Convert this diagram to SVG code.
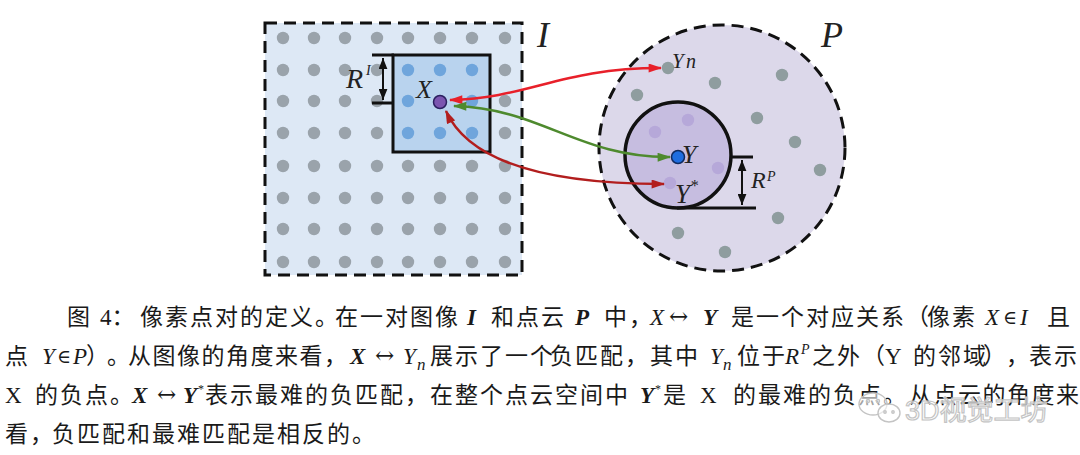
<svg xmlns="http://www.w3.org/2000/svg" width="1080" height="455" viewBox="0 0 1080 455">
<style>
.t{font-family:'Liberation Serif','Noto Sans CJK SC',serif;font-size:23px;fill:#1a1a1a}
.k{letter-spacing:2px}
.i{font-style:italic}
.b{font-weight:bold}
.sub{font-size:17px}
.sup{font-size:14px}
.ast{font-size:12px}
.sym{font-family:'DejaVu Serif',serif;font-size:23px;font-style:normal;font-weight:normal}
.el{font-family:'DejaVu Serif',serif;font-size:19px;font-style:normal}
.lab{font-family:'Liberation Serif',serif;font-style:italic;fill:#222}
.gd{fill:#9aa3ab}
.bd{fill:#6fa5dc}
.pd{fill:#8f9d9f}
.ld{fill:#b6a8d9}
.dash{fill:none;stroke:#111;stroke-width:3;stroke-dasharray:12 7}
.solid{stroke:#111;stroke-width:3}
.wm{font-family:'Liberation Sans','Noto Sans CJK SC',sans-serif;font-size:27px;fill:#fff;fill-opacity:0.6;stroke:#c4c4c4;stroke-width:1.2}
</style>
<defs>
<marker id="mr" viewBox="0 0 12 8" refX="11" refY="4" markerWidth="14" markerHeight="9" markerUnits="userSpaceOnUse" orient="auto-start-reverse"><path d="M0,0 L12,4 L0,8 z" fill="#e8202a"/></marker>
<marker id="mg" viewBox="0 0 12 8" refX="11" refY="4" markerWidth="14" markerHeight="9" markerUnits="userSpaceOnUse" orient="auto-start-reverse"><path d="M0,0 L12,4 L0,8 z" fill="#4e8a2e"/></marker>
<marker id="md" viewBox="0 0 12 8" refX="11" refY="4" markerWidth="14" markerHeight="9" markerUnits="userSpaceOnUse" orient="auto-start-reverse"><path d="M0,0 L12,4 L0,8 z" fill="#b21e1e"/></marker>
<marker id="mb" viewBox="0 0 10 8" refX="10" refY="4" markerWidth="11" markerHeight="9" markerUnits="userSpaceOnUse" orient="auto-start-reverse"><path d="M0,0 L10,4 L0,8 z" fill="#111"/></marker>
</defs>
<rect width="1080" height="455" fill="#fff"/>

<g id="image-I">
<rect x="265" y="23" width="257" height="252" fill="#dde8f5"/>
<g class="gd">
<circle cx="283" cy="38" r="6.2"/><circle cx="314" cy="38" r="6.2"/><circle cx="345" cy="38" r="6.2"/><circle cx="377" cy="38" r="6.2"/><circle cx="408" cy="38" r="6.2"/><circle cx="440" cy="38" r="6.2"/><circle cx="472" cy="38" r="6.2"/><circle cx="505" cy="38" r="6.2"/>
<circle cx="283" cy="70" r="6.2"/><circle cx="314" cy="70" r="6.2"/><circle cx="345" cy="70" r="6.2"/><circle cx="377" cy="70" r="6.2"/><circle cx="505" cy="70" r="6.2"/>
<circle cx="283" cy="101" r="6.2"/><circle cx="314" cy="101" r="6.2"/><circle cx="345" cy="101" r="6.2"/><circle cx="377" cy="101" r="6.2"/><circle cx="505" cy="101" r="6.2"/>
<circle cx="283" cy="133" r="6.2"/><circle cx="314" cy="133" r="6.2"/><circle cx="345" cy="133" r="6.2"/><circle cx="377" cy="133" r="6.2"/><circle cx="505" cy="133" r="6.2"/>
<circle cx="283" cy="166" r="6.2"/><circle cx="314" cy="166" r="6.2"/><circle cx="345" cy="166" r="6.2"/><circle cx="377" cy="166" r="6.2"/><circle cx="408" cy="166" r="6.2"/><circle cx="440" cy="166" r="6.2"/><circle cx="472" cy="166" r="6.2"/><circle cx="505" cy="166" r="6.2"/>
<circle cx="283" cy="198" r="6.2"/><circle cx="314" cy="198" r="6.2"/><circle cx="345" cy="198" r="6.2"/><circle cx="377" cy="198" r="6.2"/><circle cx="408" cy="198" r="6.2"/><circle cx="440" cy="198" r="6.2"/><circle cx="472" cy="198" r="6.2"/><circle cx="505" cy="198" r="6.2"/>
<circle cx="283" cy="229" r="6.2"/><circle cx="314" cy="229" r="6.2"/><circle cx="345" cy="229" r="6.2"/><circle cx="377" cy="229" r="6.2"/><circle cx="408" cy="229" r="6.2"/><circle cx="440" cy="229" r="6.2"/><circle cx="472" cy="229" r="6.2"/><circle cx="505" cy="229" r="6.2"/>
<circle cx="283" cy="262" r="6.2"/><circle cx="314" cy="262" r="6.2"/><circle cx="345" cy="262" r="6.2"/><circle cx="377" cy="262" r="6.2"/><circle cx="408" cy="262" r="6.2"/><circle cx="440" cy="262" r="6.2"/><circle cx="472" cy="262" r="6.2"/><circle cx="505" cy="262" r="6.2"/>
</g>
<rect x="393" y="55" width="97" height="97" fill="#b9d3ee" class="solid"/>
<g class="bd">
<circle cx="408" cy="70" r="6.2"/><circle cx="440" cy="70" r="6.2"/><circle cx="472" cy="70" r="6.2"/>
<circle cx="408" cy="101" r="6.2"/><circle cx="472" cy="101" r="6.2"/>
<circle cx="408" cy="133" r="6.2"/><circle cx="440" cy="133" r="6.2"/><circle cx="472" cy="133" r="6.2"/>
</g>
<rect x="265" y="23" width="257" height="252" class="dash"/>
<line x1="372" y1="55" x2="394" y2="55" class="solid"/>
<line x1="372" y1="103" x2="394" y2="103" class="solid"/>
<line x1="383" y1="58" x2="383" y2="100" stroke="#111" stroke-width="2" marker-start="url(#mb)" marker-end="url(#mb)"/>
<text class="lab" x="346" y="88" font-size="28">R</text>
<text class="lab" x="366" y="75" font-size="14">I</text>
<text class="lab" x="537" y="47" font-size="36">I</text>
</g>

<g id="pixel-X">
<circle cx="440" cy="102" r="6.5" fill="#7b55b0" stroke="#2b2060" stroke-width="1.5"/>
<text class="lab" x="416" y="98" font-size="26">X</text>
</g>

<g id="cloud-P">
<circle cx="722" cy="148" r="123" fill="#dcd8ea"/>
<g class="pd">
<circle cx="668" cy="68" r="6.2"/><circle cx="637" cy="95" r="6.2"/><circle cx="715" cy="83" r="6.2"/><circle cx="782" cy="75" r="6.2"/><circle cx="757" cy="118" r="6.2"/><circle cx="795" cy="142" r="6.2"/><circle cx="820" cy="170" r="6.2"/><circle cx="778" cy="218" r="6.2"/><circle cx="678" cy="233" r="6.2"/><circle cx="725" cy="252" r="6.2"/>
</g>
<circle cx="678" cy="155" r="53" fill="#c6bde0" stroke="#111" stroke-width="3.5"/>
<g class="ld">
<circle cx="655" cy="132" r="6.2"/><circle cx="688" cy="120" r="6.2"/><circle cx="718" cy="168" r="6.2"/><circle cx="670" cy="183" r="6.2"/>
</g>
<circle cx="722" cy="148" r="123" class="dash"/>
<line x1="732" y1="157" x2="753" y2="157" class="solid"/>
<line x1="677" y1="208" x2="756" y2="208" class="solid"/>
<line x1="742" y1="160" x2="742" y2="205" stroke="#111" stroke-width="2" marker-start="url(#mb)" marker-end="url(#mb)"/>
<text class="lab" x="751" y="188" font-size="24">R</text>
<text class="lab" x="767" y="181" font-size="14">P</text>
<text class="lab" x="821" y="47" font-size="36">P</text>
<text class="lab" x="672" y="68" font-size="21">Y</text>
<text class="lab" x="686" y="68" font-size="20">n</text>
<text class="lab" x="675" y="203" font-size="27">Y</text>
<text class="lab" x="690" y="191" font-size="16">*</text>
</g>

<g id="point-Y">
<circle cx="678" cy="157" r="6.5" fill="#1f6de0" stroke="#102a60" stroke-width="1.5"/>
<text class="lab" x="682" y="163" font-size="26">Y</text>
</g>

<g id="connectors" fill="none" stroke-width="2.5">
<path d="M450,100 C530,98 560,68 661,68" stroke="#e8202a" marker-start="url(#mr)" marker-end="url(#mr)"/>
<path d="M454,106 C540,108 580,158 670,157" stroke="#4e8a2e" marker-start="url(#mg)" marker-end="url(#mg)"/>
<path d="M446,111 C468,160 540,184 664,184" stroke="#b21e1e" marker-start="url(#md)" marker-end="url(#md)"/>
</g>

<g id="caption">
<text class="t" x="67" y="325">图</text>
<text class="t" x="100" y="325">4：</text>
<text class="t k" x="140" y="325">像素点对的定义。</text>
<text class="t k" x="335" y="325">在一对图像</text>
<text class="t i b" x="467" y="325">I</text>
<text class="t k" x="491" y="325">和点云</text>
<text class="t i b" x="575" y="325">P</text>
<text class="t k" x="604" y="325">中，</text>
<text class="t" y="325"><tspan class="i" x="650">X</tspan><tspan class="sym" x="669" y="324">↔</tspan><tspan class="i b" x="703" y="325">Y</tspan></text>
<text class="t k" x="731" y="325">是一个对应关系（</text>
<text class="t k" x="927" y="325">像素</text>
<text class="t" y="325"><tspan class="i" x="985">X</tspan><tspan class="el" x="1003" y="324">∈</tspan><tspan class="i" x="1020" y="325">I</tspan></text>
<text class="t" x="1047" y="325">且</text>

<text class="t" x="5" y="364">点</text>
<text class="t" y="364"><tspan class="i" x="42">Y</tspan><tspan class="el" x="57" y="363">∈</tspan><tspan class="i" x="73" y="364">P</tspan></text>
<text class="t" x="86" y="364">）</text>
<text class="t" x="107" y="364">。</text>
<text class="t" x="128" y="364" style="letter-spacing:1.5px">从图像的角度来看，</text>
<text class="t" y="364"><tspan class="i b" x="350">X</tspan><tspan class="sym" x="375" y="363">↔</tspan><tspan class="i" x="403" y="364">Y</tspan><tspan class="i sub" x="417" y="370">n</tspan></text>
<text class="t k" x="430" y="364">展示了一个</text>
<text class="t k" x="550" y="364">负匹配，</text>
<text class="t k" x="650" y="364">其中</text>
<text class="t" y="364"><tspan class="i" x="710">Y</tspan><tspan class="i sub" x="723" y="370">n</tspan></text>
<text class="t k" x="737" y="364">位于</text>
<text class="t" y="364"><tspan class="i" x="785">R</tspan><tspan class="i sup" x="801" y="354">P</tspan></text>
<text class="t k" x="812" y="364">之外（</text>
<text class="t" x="885" y="364">Y</text>
<text class="t k" x="913" y="364">的邻域</text>
<text class="t" x="983" y="364">）</text>
<text class="t" x="1006" y="364">，</text>
<text class="t k" x="1029" y="364">表示</text>

<text class="t" x="5" y="403">X</text>
<text class="t k" x="35" y="403">的负点。</text>
<text class="t" y="403"><tspan class="i b" x="132">X</tspan><tspan class="sym" x="157" y="402">↔</tspan><tspan class="i b" x="183" y="403">Y</tspan><tspan class="ast" x="198" y="393">*</tspan></text>
<text class="t k" x="205" y="403">表示最难的负匹配，</text>
<text class="t k" x="430" y="403">在整个点云空间中</text>
<text class="t" y="403"><tspan class="i b" x="640">Y</tspan><tspan class="ast" x="655" y="393">*</tspan></text>
<text class="t k" x="663" y="403">是</text>
<text class="t" x="700" y="403">X</text>
<text class="t k" x="733" y="403">的最难的负点。</text>
<text class="t" x="909" y="403" letter-spacing="1.5">从点云的角度来</text>

<text class="t k" x="5" y="442">看，</text>
<text class="t k" x="52" y="442">负匹配和最难匹配是相反的。</text>
</g>

<g id="watermark" fill="none" stroke="#c4c4c4" stroke-width="1.4">
<ellipse cx="873" cy="404" rx="14" ry="11" fill="#fff" fill-opacity="0.6"/>
<ellipse cx="889" cy="413" rx="11" ry="9" fill="#fff" fill-opacity="0.6"/>
<circle cx="868" cy="401" r="1.5"/><circle cx="878" cy="401" r="1.5"/>
<circle cx="885" cy="412" r="1.2"/><circle cx="893" cy="412" r="1.2"/>
<text class="wm" x="905" y="420">3D视觉工坊</text>
</g>
</svg>
